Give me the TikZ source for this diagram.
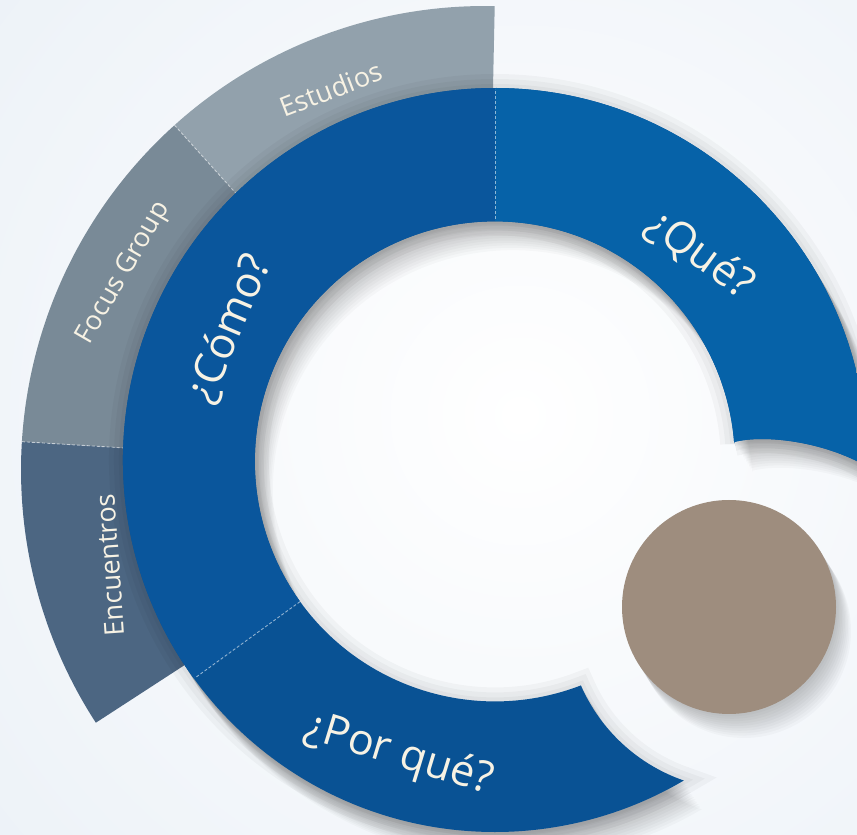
\documentclass[tikz,border=0pt]{standalone}
\usepackage{fontspec}
\setmainfont{Open Sans}
\definecolor{bgout}{RGB}{220,230,241}
\definecolor{queblue}{RGB}{6,98,168}
\definecolor{comoblue}{RGB}{10,86,156}
\definecolor{porblue}{RGB}{9,82,148}
\definecolor{estgray}{RGB}{146,161,172}
\definecolor{focgray}{RGB}{121,138,151}
\definecolor{encgray}{RGB}{76,102,130}
\definecolor{dotbrown}{RGB}{158,141,126}
\definecolor{cream}{RGB}{247,242,228}
\def\bluepath{(734.3,393) .. controls (765,401) and (825,393) .. (866.9,368.5) arc[start angle=-1,end angle=300.5,radius=372] arc[start angle=250.9,end angle=203.6,radius=174.6] arc[start angle=291,end angle=4.3,radius=240] -- cycle}
\begin{document}
\begin{tikzpicture}[x=1pt,y=1pt,
  lbl/.style={text=cream,font=\fontsize{27}{30}\selectfont,inner sep=0pt},
  big/.style={text=cream,font=\fontsize{43}{46}\selectfont,inner sep=0pt},
  sepline/.style={draw=white,opacity=0.55,dash pattern=on 3pt off 2pt,line width=0.9pt}]
\useasboundingbox (0,0) rectangle (857,835);
\clip (0,0) rectangle (857,835);
% background
\shade[inner color=white,outer color=bgout] (520,420) circle (1300);
% gray ring segments
\fill[estgray,shift={(485,365)}] (88.8:464) arc[start angle=88.8,end angle=132,radius=464] -- (132:300) arc[start angle=132,end angle=88.8,radius=300] -- cycle;
\fill[focgray,shift={(485,365)}] (132:464) arc[start angle=132,end angle=176.5,radius=464] -- (176.5:300) arc[start angle=176.5,end angle=132,radius=300] -- cycle;
\fill[encgray,shift={(485,365)}] (176.5:464) arc[start angle=176.5,end angle=213,radius=464] -- (213:300) arc[start angle=213,end angle=176.5,radius=300] -- cycle;
\draw[sepline,shift={(485,365)}] (132:464) -- (132:360);
\draw[sepline,shift={(485,365)}] (176.5:464) -- (176.5:360);
% shadows of blue ring
\foreach \w in {8,18,28}
  \draw[black,opacity=0.03,line width=\w pt] \bluepath;
\foreach \k in {1,...,12}
  \fill[black,opacity=0.022,shift={(1.5*\k,-2.4*\k)}] \bluepath;
% blue ring
\begin{scope}
  \clip \bluepath;
  \fill[porblue] (0,0) rectangle (857,835);
  \fill[comoblue,shift={(495,375)}] (0,0) -- (90:700) -- (135:700) -- (180:700) -- (216:700) -- cycle;
  \fill[queblue,shift={(495,375)}] (0,0) -- (-30:700) -- (30:700) -- (90:700) -- cycle;
\end{scope}
\draw[sepline,shift={(495,375)}] (90:241) -- (90:371);
\draw[sepline,shift={(495,375)}] (216:241) -- (216:371);
% brown circle with shadow
\foreach \k in {1,...,10}
  \fill[black,opacity=0.025] (729+1.5*\k,228-2.4*\k) circle (107);
\node[circle,fill=dotbrown,minimum size=214pt,inner sep=0pt] (dot) at (729,228) {};
% labels
\node[lbl,rotate=21] (est) at (331,746) {Estudios};
\node[lbl,rotate=60] (foc) at (124,562) {Focus Group};
\node[lbl,rotate=94] (enc) at (110,270) {Encuentros};
\node[big,rotate=67] (como) at (230,506) {¿Cómo?};
\node[big,rotate=-36] (que) at (700,580) {¿Qué?};
\node[big,rotate=-17] (por) at (399,80) {¿Por qué?};
\end{tikzpicture}
\end{document}
